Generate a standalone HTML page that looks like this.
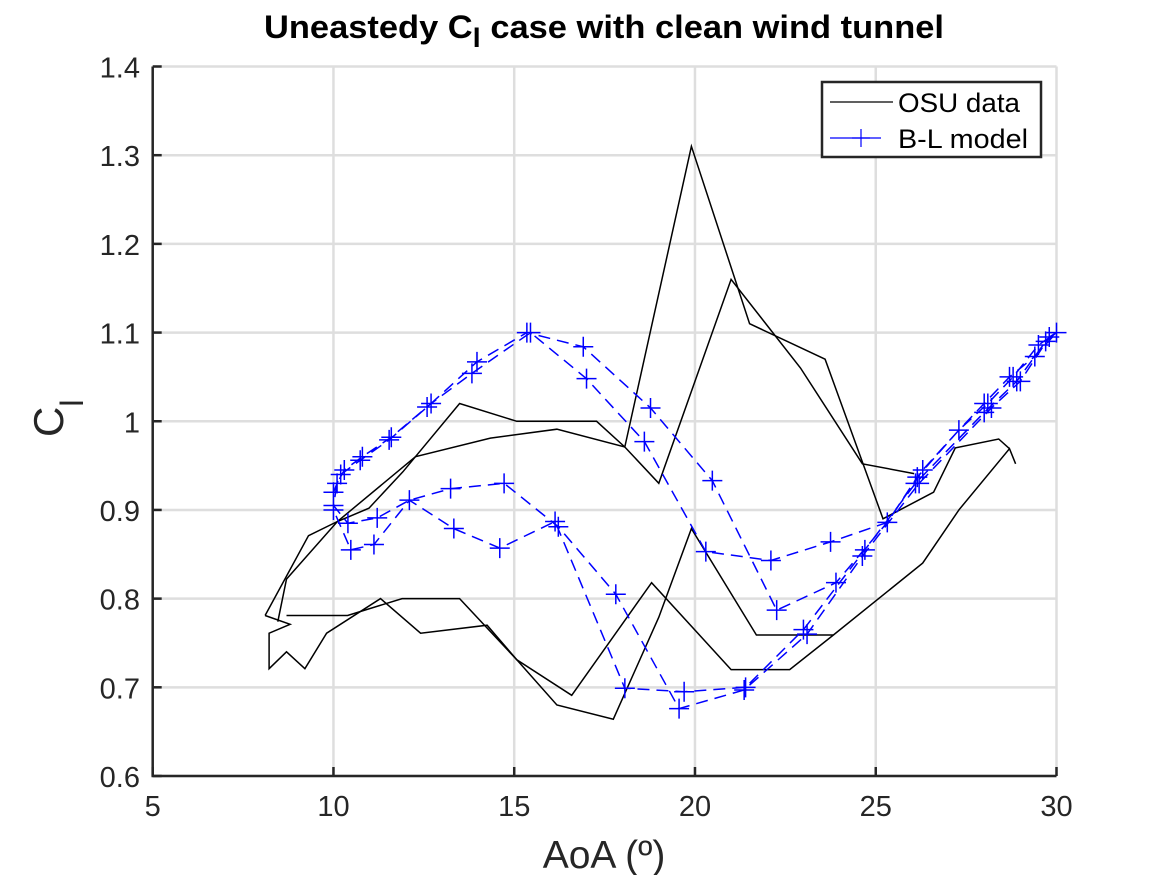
<!DOCTYPE html>
<html><head><meta charset="utf-8"><style>
body{margin:0;background:#fff;}
svg{display:block;font-family:"Liberation Sans",Arial,sans-serif;}
</style></head><body>
<svg id="chart" width="1167" height="875" viewBox="0 0 1167 875" xmlns="http://www.w3.org/2000/svg">
<rect width="1167" height="875" fill="#fff"/>
<g id="grid"></g>
<g id="series"></g>
<g id="axes"></g>
<text x="604" y="38" text-anchor="middle" font-size="32" font-weight="bold" fill="#000" textLength="680" lengthAdjust="spacingAndGlyphs">Uneastedy C<tspan font-size="27" dy="9">l</tspan><tspan dy="-9"> case with clean wind tunnel</tspan></text>
<text x="604" y="868" text-anchor="middle" font-size="39" fill="#262626">AoA (º)</text>
<g transform="translate(63,425) rotate(-90)"><text x="-12" y="0" font-size="42" fill="#262626">C<tspan font-size="32" dx="0" dy="20">l</tspan></text></g>
<g>
<rect x="822" y="82" width="219" height="75" fill="#fff" stroke="#262626" stroke-width="2.5"/>
<line x1="830" y1="102" x2="893" y2="102" stroke="#000" stroke-width="1.2"/>
<text x="898" y="112" font-size="27" fill="#000" textLength="122" lengthAdjust="spacingAndGlyphs">OSU data</text>
<line x1="830" y1="138" x2="881" y2="138" stroke="#00f" stroke-width="1.2"/>
<path d="M861 129 V147 M852 138 H870" stroke="#00f" stroke-width="1.2"/>
<text x="898" y="148" font-size="27" fill="#000" textLength="130" lengthAdjust="spacingAndGlyphs">B-L model</text>
</g>
</svg>
<script>
const xTicks=[5,10,15,20,25,30];
const yTicks=[0.6,0.7,0.8,0.9,1,1.1,1.2,1.3,1.4];
const yTickLabels=["0.6","0.7","0.8","0.9","1","1.1","1.2","1.3","1.4"];
const osuA_x=[8.11,9.31,10.11,10.98,11.92,13.49,15.07,17.28,18.06,19.0,21.0,22.92,24.63,26.06];
const osuA_y=[0.781,0.871,0.887,0.902,0.943,1.02,1.0,1.0,0.971,0.93,1.16,1.06,0.952,0.941];
const osuB_x=[8.46,8.70,10.11,12.27,14.34,16.18,18.06,19.9,21.51,23.6,25.2,26.6,27.2,28.4,28.7,28.87,28.7,27.3,26.3,23.83,22.62,21.0,18.8,16.59,15.07,14.25,12.41,11.3,9.81,9.21,8.70,8.22,8.22,8.80,8.11];
const osuB_y=[0.774,0.822,0.887,0.96,0.981,0.991,0.971,1.31,1.11,1.07,0.89,0.92,0.97,0.98,0.969,0.952,0.969,0.90,0.84,0.759,0.72,0.72,0.818,0.691,0.731,0.77,0.761,0.80,0.761,0.721,0.74,0.721,0.761,0.771,0.781];
const osuC_x=[8.70,10.39,11.9,13.49,15.07,16.18,17.74,19.0,19.9,21.7,23.83];
const osuC_y=[0.781,0.781,0.80,0.80,0.731,0.68,0.664,0.779,0.879,0.759,0.759];
const bl_x=[10.0,10.2,10.74,11.54,12.59,13.97,15.35,16.91,18.77,20.48,22.26,23.9,25.32,26.15,27.3,28.0,28.7,29.4,30.0,29.8,29.0,28.2,26.2,24.63,23.1,21.36,19.56,17.81,16.22,14.72,13.24,12.1,11.21,10.4,10.0,10.1,10.3,10.8,11.6,12.7,13.83,15.45,17.0,18.6,20.3,22.1,23.75,25.32,26.3,27.3,28.1,28.8,29.5,30.0,29.7,28.9,28.0,26.1,24.7,23.0,21.4,19.7,18.06,16.13,14.6,13.33,12.1,11.12,10.48,10.0];
const bl_y=[0.92,0.94,0.956,0.979,1.016,1.067,1.10,1.084,1.015,0.933,0.787,0.818,0.886,0.937,0.99,1.02,1.05,1.073,1.10,1.095,1.045,1.015,0.93,0.848,0.76,0.697,0.676,0.805,0.881,0.93,0.924,0.911,0.891,0.885,0.905,0.93,0.945,0.96,0.982,1.02,1.054,1.10,1.048,0.977,0.853,0.843,0.864,0.886,0.945,0.99,1.02,1.05,1.086,1.10,1.09,1.045,1.01,0.93,0.855,0.765,0.70,0.695,0.699,0.887,0.857,0.879,0.911,0.861,0.855,0.90];

const X0=152.7,X1=1056.5,Y0=776,Y1=66.5;
function sx(v){return X0+(v-5)/25*(X1-X0);}
function sy(v){return Y0-(v-0.6)/0.8*(Y0-Y1);}
const NS="http://www.w3.org/2000/svg";
function mk(tag,attrs,parent){const e=document.createElementNS(NS,tag);for(const k in attrs)e.setAttribute(k,attrs[k]);parent.appendChild(e);return e;}
const grid=document.getElementById('grid'),axes=document.getElementById('axes'),series=document.getElementById('series');
xTicks.forEach((t,i)=>{
  const g=mk('line',{x1:sx(t),x2:sx(t),y1:Y1,y2:Y0,stroke:'#dedede','stroke-width':2.5},grid);
  
  
  const tk=mk('line',{x1:sx(t),x2:sx(t),y1:Y0,y2:Y0-9,stroke:'#262626','stroke-width':2.5},axes);
  
  
  const lb=mk('text',{x:sx(t),y:816,'text-anchor':'middle','font-size':29,fill:'#262626'},axes);
  lb.textContent=String(t);
  
  
});
yTicks.forEach((t,i)=>{
  const g=mk('line',{x1:X0,x2:X1,y1:sy(t),y2:sy(t),stroke:'#dedede','stroke-width':2.5},grid);
  
  
  const tk=mk('line',{x1:X0,x2:X0+9,y1:sy(t),y2:sy(t),stroke:'#262626','stroke-width':2.5},axes);
  
  
  const lb=mk('text',{x:140,y:sy(t)+11,'text-anchor':'end','font-size':29,fill:'#262626'},axes);
  lb.textContent=yTickLabels[i];
  
  
});
const ax=mk('path',{d:`M${X0} ${Y1} V${Y0} H${X1}`,fill:'none',stroke:'#262626','stroke-width':2.5},axes);


function pts(xs,ys){return xs.map((x,i)=>sx(x).toFixed(1)+','+sy(ys[i]).toFixed(1)).join(' ');}
[[osuA_x,osuA_y],[osuB_x,osuB_y],[osuC_x,osuC_y]].forEach(([xs,ys])=>{
  const p=mk('polyline',{points:pts(xs,ys),fill:'none',stroke:'#000','stroke-width':1.5,'stroke-linejoin':'miter'},series);
  
  
});
const bl=mk('polyline',{points:pts(bl_x,bl_y),fill:'none',stroke:'#00f','stroke-width':1.5,'stroke-dasharray':'12 7'},series);


let d='';
bl_x.forEach((x,i)=>{const px=sx(x),py=sy(bl_y[i]);d+=`M${px-10} ${py}H${px+10}M${px} ${py-10}V${py+10}`;});
const mks=mk('path',{d:d,stroke:'#00f','stroke-width':1.5,fill:'none'},series);


</script>
</body></html>
